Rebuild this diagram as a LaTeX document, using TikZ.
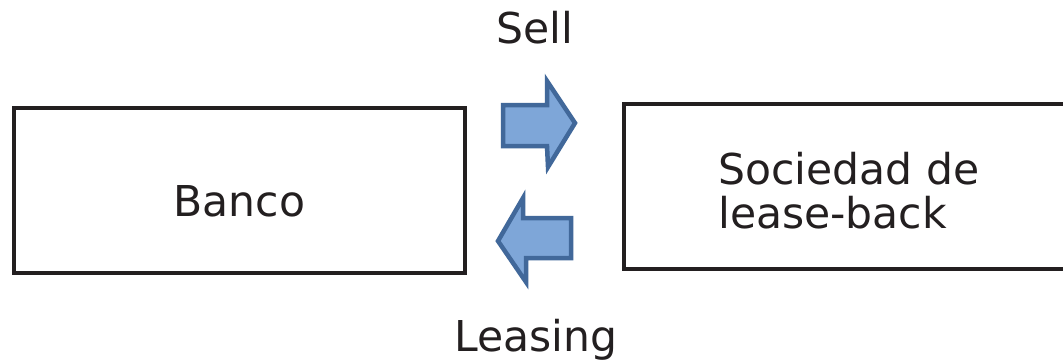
\documentclass[tikz,border=0pt]{standalone}
\usepackage{fontspec}
\setmainfont{DejaVu Sans}
\definecolor{arrfill}{HTML}{7EA6D8}
\definecolor{arrline}{HTML}{41689A}
\definecolor{boxline}{HTML}{231F20}
\begin{document}
\begin{tikzpicture}[x=1pt,y=-1pt,
  box/.style={draw=boxline,line width=3.2pt,fill=white},
  blockarrow/.style={draw=arrline,fill=arrfill,line width=4.5pt,line join=miter},
  lbl/.style={font=\fontsize{42.5}{44}\selectfont,text=boxline,inner sep=0pt,anchor=base}]
\useasboundingbox (0,0) rectangle (1063,360);
\clip (0,0) rectangle (1063,360);
\fill[white] (0,0) rectangle (1063,360);
% boxes
\draw[box] (14,108) rectangle (465,273);
\node (banco) [lbl] at (239.5,216.5) {Banco};
\draw[box] (624,104) rectangle (1075,269);
\node (soc) [lbl,anchor=base west,align=left] at (718,228) {Sociedad de\\lease-back};
% arrows
\draw[blockarrow] (503,105) -- (547,105) -- (547,81) -- (575,123) -- (548,167) -- (547,146) -- (503,146) -- cycle;
\draw[blockarrow] (571,218) -- (523,218) -- (523,198) -- (498,241) -- (526,282) -- (526,258) -- (571,258) -- cycle;
% labels
\node (sell) [lbl] at (535,43) {Sell};
\node (leasing) [lbl] at (536,351) {Leasing};
\end{tikzpicture}
\end{document}
